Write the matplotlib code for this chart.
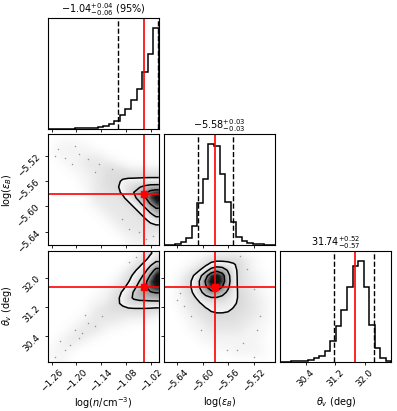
# Corner plot of the posterior: log n, log eps_B, theta_v

import numpy as np
import matplotlib.pyplot as plt
from matplotlib.colors import LinearSegmentedColormap

# Parameters
labels = [r"log($n$/cm$^{-3}$)", r"log($\varepsilon_B$)", r"$\theta_v$ (deg)"]
ranges = [(-1.270, -1.000), (-5.661, -5.486), (29.71, 32.73)]
truths = [-1.035, -5.581, 31.74]
quantiles = [(-1.099, -1.003), (-5.608, -5.552), (31.17, 32.26)]
ticks = [[-1.26, -1.20, -1.14, -1.08, -1.02],
         [-5.64, -5.60, -5.56, -5.52],
         [30.4, 31.2, 32.0]]
tick_fmt = ["%.2f", "%.2f", "%.1f"]
titles = [r"$-1.04_{-0.06}^{+0.04}$ (95%)",
          r"$-5.58_{-0.03}^{+0.03}$",
          r"$31.74_{-0.57}^{+0.52}$"]

# 1D histograms (20 bins over each range)
hist_n = [0, 0, 0, 0, 0, 1, 1, 1, 2, 4, 8, 14, 22, 40, 57, 85, 118, 168, 222, 300]
hist_eps = [0, 1, 2, 8, 20, 57, 125, 197, 300, 296, 213, 127, 68, 25, 12, 5, 3, 2, 1, 0]
hist_theta = [0, 0, 1, 2, 3, 6, 10, 17, 32, 63, 107, 155, 225, 287, 302, 225, 110, 42, 10, 3]

# 2D density shade levels (0 empty .. 9 peak), 20x20, top row first
dens_n_eps = [
    "00000000000000000000",
    "00111100000000000000",
    "01111111000000000000",
    "01111111110000000000",
    "00111122221100000000",
    "00011122222211000000",
    "00001112223333222222",
    "00000111223333333333",
    "00000011223334444444",
    "00000011223334455666",
    "00000001222334566788",
    "00000001222223456789",
    "00000001122222345678",
    "00000000112222234567",
    "00000000011222223456",
    "00000000001122222345",
    "00000000000112222233",
    "00000000000011222222",
    "00000000000001112221",
    "00000000000000111111",
]
dens_n_theta = [
    "00000000000000001234",
    "00000000000000012345",
    "00000000000000123456",
    "00000000000001234568",
    "00000000000012345579",
    "00000000000112345789",
    "00000000001123456788",
    "00000000011234466677",
    "00000000111234566666",
    "00000001112334555555",
    "00000001223333333333",
    "00000011222222222221",
    "00000112222221111110",
    "00001122221111000000",
    "00011222211000000000",
    "00112221100000000000",
    "01122110000000000000",
    "01111000000000000000",
    "11110000000000000000",
    "01100000000000000000",
]
dens_eps_theta = [
    "00000000111111000000",
    "00000112333333221000",
    "00001123444443210000",
    "00011234677543211000",
    "00113467998643221100",
    "00123457998643221100",
    "00123467887643221100",
    "00123456776543321100",
    "00112345555443322110",
    "00112334444443322110",
    "00012233444433322110",
    "00011223333333222110",
    "00001122333332221110",
    "00001112222222211100",
    "00000111222222111100",
    "00000011111111111100",
    "00000001111111111000",
    "00000000011111111100",
    "00000000000011111100",
    "00000000000000000000",
]

# scattered samples far from the bulk
out_n_eps_x = [-1.252, -1.244, -1.203, -1.228, -1.195, -1.171, -1.211, -1.146,
               -1.154, -1.113, -1.073, -1.032, -1.048, -1.015, -1.089]
out_n_eps_y = [-5.520, -5.510, -5.504, -5.523, -5.518, -5.525, -5.533, -5.533,
               -5.546, -5.541, -5.636, -5.652, -5.641, -5.646, -5.620]
out_n_theta_x = [-1.252, -1.240, -1.228, -1.203, -1.187, -1.171, -1.154, -1.138,
                 -1.195, -1.215, -1.179, -1.073, -1.056]
out_n_theta_y = [29.85, 30.26, 30.03, 30.58, 30.49, 30.76, 30.67, 30.95,
                 30.35, 30.17, 30.99, 32.41, 32.55]
out_eps_theta_x = [-5.635, -5.640, -5.630, -5.541, -5.530, -5.520, -5.510,
                   -5.515, -5.520, -5.536, -5.546, -5.619, -5.603, -5.562]
out_eps_theta_y = [31.59, 31.40, 31.22, 32.59, 32.23, 31.68, 30.95,
                   30.58, 29.85, 30.22, 30.03, 30.95, 30.58, 30.03]

hists = [hist_n, hist_eps, hist_theta]
dens = {(1, 0): dens_n_eps, (2, 0): dens_n_theta, (2, 1): dens_eps_theta}
outliers = {(1, 0): (out_n_eps_x, out_n_eps_y),
            (2, 0): (out_n_theta_x, out_n_theta_y),
            (2, 1): (out_eps_theta_x, out_eps_theta_y)}
contour_levels = [3.4, 5.3, 6.9]

# grey map: faint cloud outside the outer contour, white-to-black inside
seg = [(0.0, 1.0, 1.0), (1 / 9, 0.96, 0.96), (2 / 9, 0.91, 0.91),
       (3.4 / 9, 0.85, 0.97), (5.3 / 9, 0.82, 0.82), (6.9 / 9, 0.55, 0.55),
       (8.0 / 9, 0.1, 0.1), (1.0, 0.0, 0.0)]
cmap = LinearSegmentedColormap("dens", {"red": seg, "green": seg, "blue": seg})

fs = 6.5
fig, axes = plt.subplots(3, 3, figsize=(3.97, 4.11), dpi=100,
                         gridspec_kw=dict(left=0.120, right=0.986, top=0.957,
                                          bottom=0.120, wspace=0.046, hspace=0.05))


def centers(lo, hi, n):
    c = lo + (np.arange(n) + 0.5) * (hi - lo) / n
    return np.concatenate([[lo], c, [hi]])


def smooth(z):
    zp = np.pad(z, 1, mode="edge")
    k = [1, 2, 1]
    n, m = z.shape
    out = np.zeros_like(z)
    for a in range(3):
        for b in range(3):
            out += k[a] * k[b] * zp[a:a + n, b:b + m]
    return out / 16


def fmt(vals, f):
    return [(f % v).replace("-", "\u2212") for v in vals]


for i in range(3):
    for j in range(3):
        ax = axes[i, j]
        if j > i:
            ax.set_axis_off()
            continue
        x0, x1 = ranges[j]
        if i == j:
            counts = np.array(hists[i], dtype=float)
            edges = np.linspace(x0, x1, len(counts) + 1)
            ax.stairs(counts, edges, color="k", lw=1.1)
            for q in quantiles[i]:
                ax.axvline(q, color="k", ls="--", lw=1.0)
            ax.axvline(truths[i], color="red", lw=1.2)
            ax.set_ylim(0, 1.1 * counts.max())
            ax.set_yticks([])
            ax.set_title(titles[i], fontsize=fs + 0.5, pad=3)
        else:
            y0, y1 = ranges[i]
            z = np.array([[int(c) for c in row] for row in dens[(i, j)]], dtype=float)
            z = smooth(z)
            ox, oy = outliers[(i, j)]
            ax.plot(ox, oy, "o", color="0.5", ms=1.1, mew=0, alpha=0.8)
            ax.imshow(z, cmap=cmap, vmin=0, vmax=9, extent=(x0, x1, y0, y1),
                      origin="upper", aspect="auto", interpolation="bilinear",
                      interpolation_stage="data", zorder=0)
            zp = np.pad(z[::-1], 1, mode="edge")
            xc = centers(x0, x1, z.shape[1])
            yc = centers(y0, y1, z.shape[0])
            ax.contour(xc, yc, zp, levels=contour_levels, colors="k", linewidths=1.1)
            ax.axvline(truths[j], color="red", lw=1.2)
            ax.axhline(truths[i], color="red", lw=1.2)
            ax.plot(truths[j], truths[i], "s", color="red", ms=4.5)
            ax.set_ylim(y0, y1)
            ax.set_yticks(ticks[i])
            if j == 0:
                ax.set_yticklabels(fmt(ticks[i], tick_fmt[i]), rotation=45, fontsize=fs)
                ax.set_ylabel(labels[i], fontsize=fs + 0.5)
                ax.yaxis.set_label_coords(-0.3, 0.5)
            else:
                ax.set_yticklabels([])
        ax.set_xlim(x0, x1)
        ax.set_xticks(ticks[j])
        if i == 2:
            ax.set_xticklabels(fmt(ticks[j], tick_fmt[j]), rotation=45, fontsize=fs)
            ax.set_xlabel(labels[j], fontsize=fs + 0.5)
            ax.xaxis.set_label_coords(0.5, -0.3)
        else:
            ax.set_xticklabels([])
        ax.tick_params(length=2.5, width=0.6, pad=2)
        for s in ax.spines.values():
            s.set_linewidth(0.8)

plt.savefig("out.png", dpi=100)
